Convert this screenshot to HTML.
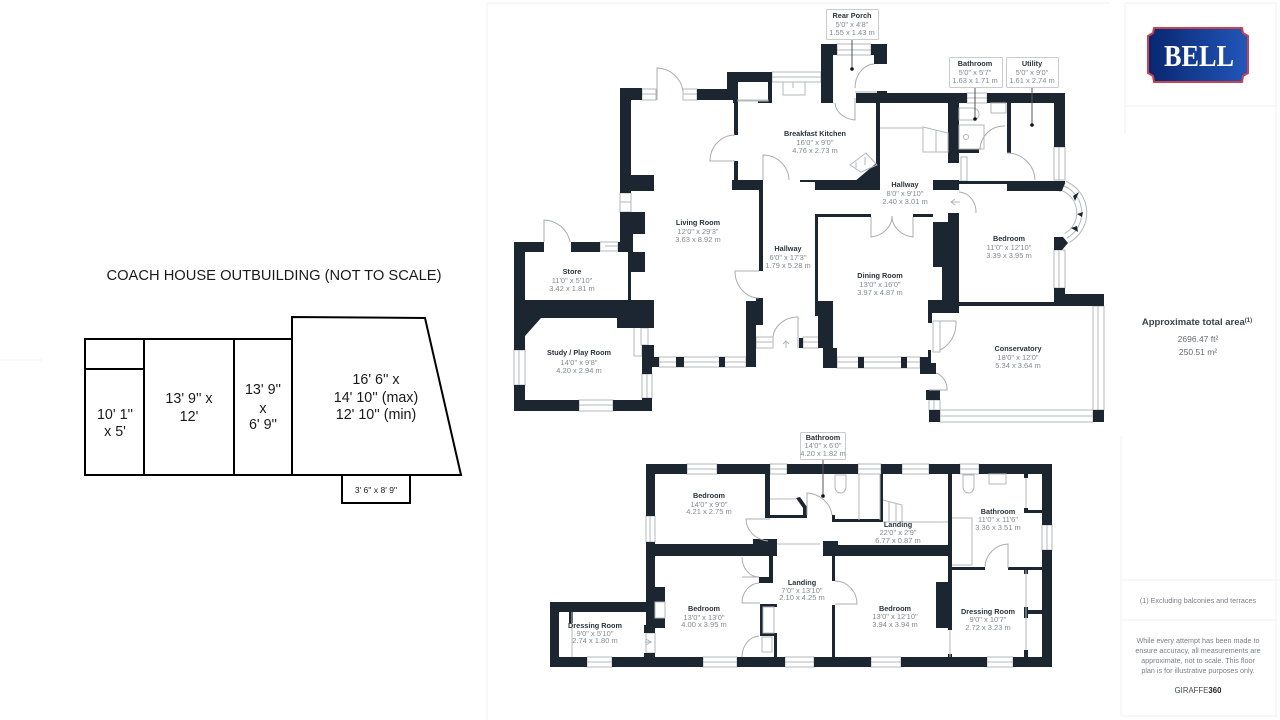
<!DOCTYPE html>
<html><head><meta charset="utf-8"><title>Floor plan</title>
<style>
html,body{margin:0;padding:0;background:#fff;width:1280px;height:720px;overflow:hidden}
svg{display:block}
text{font-family:"Liberation Sans",sans-serif;text-anchor:middle}
.n{font-size:7.300px;font-weight:bold;fill:#2a333d}
.d{font-size:7.500px;fill:#85898e}
.c{font-size:14.300px;fill:#1a1a1a}
.w{fill:#1b2631;stroke:none}
.g{fill:#fff;stroke:#b4b7ba;stroke-width:1}
.l{fill:none;stroke:#b4b7ba;stroke-width:1}
.a{fill:none;stroke:#a9acb0;stroke-width:1}
.t{fill:#fff;stroke:#c9cbcd;stroke-width:1}
.p{fill:none;stroke:#f0f0f0;stroke-width:1}
.f{font-size:7.200px;fill:#7a7f85}
</style></head><body>
<svg width="1280" height="720" viewBox="0 0 1280 720" xmlns="http://www.w3.org/2000/svg">
<!-- page lines -->
<path class="p" d="M487 3H1110M487 3V720M0 360H42M1125 3H1276V718M1125 3V134M1125 106H1276M1121 436V716M1121 580H1276M1121 620H1276M1121 716H1276M1240 580H1280"/>

<!-- Coach house -->
<g fill="none" stroke="#000" stroke-width="2">
<path d="M85 339H292V475H85ZM85 369H144M144 339V475M234 339V475"/>
<path d="M292 339V317L425 318L461 475H292"/>
<path d="M342 475V503H410V475"/>
</g>
<text x="274" y="280" font-size="15" fill="#1a1a1a" textLength="335" lengthAdjust="spacingAndGlyphs">COACH HOUSE OUTBUILDING (NOT TO SCALE)</text>
<text class="c" x="115" y="419">10' 1''</text><text class="c" x="115" y="436">x 5'</text>
<text class="c" x="189" y="403">13' 9'' x</text><text class="c" x="189" y="421">12'</text>
<text class="c" x="263" y="394">13' 9''</text><text class="c" x="263" y="413">x</text><text class="c" x="263" y="429">6' 9''</text>
<text class="c" x="376" y="384">16' 6'' x</text><text class="c" x="376" y="402">14' 10'' (max)</text><text class="c" x="376" y="419">12' 10'' (min)</text>
<text x="376" y="493" font-size="8.500" fill="#1a1a1a">3' 6'' x 8' 9''</text>

<!-- GROUND FLOOR windows -->
<g class="g">
<rect x="642" y="89" width="14" height="11"/><rect x="683" y="89" width="14" height="11"/>
<rect x="772" y="72" width="49" height="10"/>
<rect x="620" y="193" width="11" height="19"/>
<rect x="600" y="242" width="18" height="9"/>
<rect x="514" y="350" width="11" height="35"/>
<rect x="579" y="400" width="34" height="11"/>
<rect x="642" y="374" width="10" height="24"/>
<rect x="659" y="357" width="87" height="10"/>
<rect x="756" y="337" width="17" height="11"/><rect x="803" y="337" width="16" height="11"/>
<rect x="837" y="357" width="83" height="11"/>
<rect x="1054" y="250" width="11" height="38"/>
<rect x="1093" y="306" width="11" height="104"/>
<rect x="940" y="410" width="153" height="12"/>
<rect x="929" y="400" width="11" height="10"/>
<rect x="837" y="44" width="34" height="11"/>
<rect x="967" y="93" width="20" height="10"/>
<rect x="1054" y="147" width="11" height="33"/>
<rect x="933" y="321" width="7" height="31"/>
<rect x="634" y="325" width="8" height="31"/>
<rect x="641" y="328" width="7" height="17"/>
<rect x="961" y="157" width="6" height="24"/>
</g>
<path class="l" d="M642 94H656M683 94H697M772 77H821M620 202H631M605 246H618M519 350V385M579 405H613M647 374V398M659 362H746M756 342H773M803 342H819M837 362H920M1059 250V288M1098 306V410M940 416H1093M934 400V410M837 50H871M967 98H987M1059 147V180"/>

<!-- GROUND FLOOR walls -->
<g class="w">
<rect x="620" y="88" width="11" height="105"/><rect x="620" y="88" width="22" height="12"/>
<rect x="697" y="89" width="36" height="11"/>
<path d="M727 72H772V103H758V100H768V82H738V103H733V100H727Z"/>
<rect x="734" y="100" width="4" height="35"/><rect x="734" y="161" width="4" height="19"/>
<rect x="732" y="180" width="30" height="10"/>
<rect x="759" y="180" width="4" height="91"/>
<rect x="631" y="175" width="23" height="16"/>
<path d="M620 212H645V234H633V252H645V272H631V300H628V252H620Z"/>
<path d="M514 242H544V252H525V300H654V328H617V318H541L525 336V350H514Z"/>
<rect x="571" y="242" width="29" height="10"/><rect x="618" y="242" width="10" height="10"/>
<rect x="514" y="385" width="11" height="26"/><rect x="514" y="400" width="65" height="11"/>
<rect x="613" y="400" width="39" height="11"/><rect x="642" y="398" width="10" height="13"/>
<path d="M642 345H654V357H659V367H652V374H642Z"/>
<rect x="676" y="357" width="8" height="10"/><rect x="719" y="357" width="6" height="10"/>
<path d="M746 301H756V298H763V325H756V367H746Z"/>
<rect x="799" y="338" width="4" height="10"/>
<!-- Dining -->
<rect x="815" y="214" width="56" height="3"/><rect x="815" y="214" width="3" height="87"/>
<path d="M815 301H833V348H837V368H823V348H818V316H815Z"/>
<rect x="858" y="357" width="6" height="11"/><rect x="901" y="357" width="6" height="11"/>
<path d="M920 357H928V350H931V363H936V374H920Z"/>
<rect x="913" y="214" width="20" height="3"/>
<path d="M948 213H959V313H932V323H928V300H942V267H933V222H948Z"/>
<rect x="959" y="302" width="96" height="4"/>
<path d="M1054 288H1065V294H1104V306H1054Z"/>
<rect x="1093" y="410" width="11" height="12"/><rect x="929" y="410" width="11" height="12"/><rect x="926" y="390" width="14" height="10"/>
<!-- Kitchen area -->
<rect x="800" y="180" width="80" height="2"/><rect x="815" y="182" width="65" height="8"/>
<path d="M854 182L880 160V190H854Z"/>
<rect x="876" y="93" width="4" height="97"/>
<path d="M821 44H837V55H833V103H821Z"/>
<path d="M871 44H887V64H874V55H871Z"/>
<rect x="856" y="93" width="111" height="10"/><rect x="877" y="91" width="10" height="3"/>
<rect x="987" y="93" width="78" height="10"/><rect x="1054" y="93" width="11" height="54"/>
<rect x="948" y="93" width="11" height="70"/>
<rect x="1007" y="93" width="4" height="60"/>
<rect x="959" y="149" width="20" height="4"/>
<rect x="933" y="180" width="26" height="10"/>
<rect x="959" y="181" width="48" height="3"/>
<rect x="1007" y="181" width="58" height="10"/>
<path d="M1055 181H1065L1060 192Z"/>
<!-- Bay -->
<path d="M1054 237H1063L1068 243L1062 250H1054Z"/>
</g>
<!-- Bay window -->
<path d="M1064 186A29 29 0 0 1 1067 238" fill="none" stroke="#b4b7ba" stroke-width="11"/>
<path d="M1064 186A29 29 0 0 1 1067 238" fill="none" stroke="#fff" stroke-width="9"/>
<path d="M1064 186A29 29 0 0 1 1067 238" fill="none" stroke="#b4b7ba" stroke-width="1"/>
<path class="w" d="M1073 196L1079 192L1075 201ZM1077 214L1083 212L1082 217ZM1071 228L1078 232L1077 226Z"/>

<!-- Doors -->
<g class="a">
<path d="M657 100V68A27 27 0 0 1 683 91"/>
<path d="M544 242V220A27 27 0 0 1 570 242"/>
<path d="M735 135A25 26 0 0 0 710 161H735"/>
<path d="M763 180V155A26 26 0 0 1 789 180"/>
<path d="M759 271H735A24 27 0 0 0 759 298"/>
<path d="M798 348V317A25 22 0 0 0 773 337"/>
<path d="M871 217V237A24 21 0 0 0 892 216A24 21 0 0 0 913 237V217"/>
<path d="M855 92H877M874 64A20 24 0 0 0 855 88"/>
<path d="M855 98V120A22 18 0 0 1 835 103"/>
<path d="M1007 153A28 28 0 0 1 1035 180"/>
<path d="M1005 126H1003A24 24 0 0 0 980 150"/>
<path d="M959 192A18 20 0 0 1 976 213"/>
<path d="M940 321H956A26 29 0 0 1 940 350"/>
<path d="M936 373A16 17 0 0 1 947 390H929"/>
</g>
<!-- Fixtures -->
<g class="l">
<rect x="783" y="82" width="22" height="13"/>
<path d="M793 82V88"/>
<rect x="738" y="100" width="30" height="1"/>
<path d="M880 128H923M923 127L948 133V152H923ZM936 130V152"/>
<rect x="959" y="125" width="25" height="24"/>
<circle cx="966" cy="137" r="2.500"/>
<path d="M959 108H973A5.500 5.500 0 0 1 973 120H959Z"/>
<rect x="991" y="103" width="15" height="10"/>
<path d="M850 165L866 153L877 165L861 172Z"/>
<path d="M856 162V168M865 157V165"/>
<path d="M955 199L951 202L955 205M951 202H960M786 341V348M783 344L786 341L789 344"/>
</g>

<!-- FIRST FLOOR windows -->
<g class="g">
<rect x="687" y="464" width="30" height="10"/><rect x="770" y="464" width="17" height="10"/>
<rect x="858" y="464" width="23" height="10"/><rect x="902" y="464" width="27" height="10"/>
<rect x="960" y="464" width="19" height="10"/>
<rect x="1042" y="525" width="10" height="25"/>
<rect x="871" y="657" width="30" height="10"/><rect x="987" y="657" width="26" height="10"/>
<rect x="587" y="657" width="25" height="10"/><rect x="703" y="657" width="34" height="10"/><rect x="785" y="657" width="29" height="10"/>
<rect x="646" y="516" width="9" height="26"/>
<rect x="646" y="633" width="9" height="20"/>
</g>
<path class="l" d="M687 469H717M770 469H787M858 469H881M902 469H929M960 469H979M1047 525V550M871 662H901M987 662H1013M587 662H612M703 662H737M785 662H814M650 516V542"/>
<!-- FIRST FLOOR walls -->
<g class="w">
<rect x="646" y="464" width="41" height="10"/><rect x="717" y="464" width="53" height="10"/>
<rect x="787" y="464" width="71" height="10"/><rect x="881" y="464" width="21" height="10"/>
<rect x="929" y="464" width="31" height="10"/><rect x="979" y="464" width="73" height="10"/>
<rect x="646" y="464" width="9" height="52"/>
<rect x="1042" y="464" width="10" height="61"/><rect x="1042" y="550" width="10" height="117"/>
<rect x="815" y="657" width="56" height="10"/><rect x="901" y="657" width="86" height="10"/>
<rect x="1013" y="657" width="39" height="10"/>
<rect x="550" y="657" width="37" height="10"/><rect x="612" y="657" width="91" height="10"/>
<rect x="737" y="657" width="48" height="10"/><rect x="814" y="657" width="5" height="10"/>
<rect x="550" y="602" width="9" height="65"/><rect x="550" y="602" width="105" height="10"/>
<path d="M646 542H655V587H665V602H655V618H665V628H655V633H644V625H646Z"/>
<rect x="644" y="653" width="11" height="4"/>
<rect x="646" y="544" width="131" height="12"/><rect x="753" y="539" width="24" height="17"/>
<rect x="823" y="545" width="125" height="11"/><rect x="823" y="541" width="15" height="15"/>
<rect x="765" y="474" width="5" height="44"/><rect x="766" y="515" width="41" height="3"/>
<path d="M796 498L800 497L807 507V518H803V508Z"/>
<rect x="769" y="556" width="4" height="27"/><rect x="759" y="577" width="14" height="6"/>
<path d="M760 604H777V607H763V633H777V636H760Z"/><rect x="774" y="633" width="3" height="24"/>
<rect x="832" y="556" width="3" height="25"/><rect x="832" y="605" width="3" height="52"/>
<rect x="832" y="519" width="51" height="3"/><rect x="832" y="515" width="3" height="7"/>
<rect x="880" y="474" width="3" height="48"/>
<rect x="948" y="474" width="4" height="156"/>
<rect x="936" y="582" width="12" height="46"/>
<rect x="952" y="567" width="33" height="3"/><rect x="1008" y="567" width="34" height="3"/>
<rect x="1024" y="474" width="4" height="4"/><rect x="1024" y="508" width="4" height="5"/><rect x="1024" y="510" width="18" height="3"/>
<rect x="1024" y="570" width="4" height="4"/><rect x="1024" y="607" width="4" height="11"/><rect x="1028" y="610" width="14" height="4"/><rect x="1024" y="650" width="4" height="7"/>
<rect x="569" y="612" width="4" height="11"/>
<rect x="948" y="654" width="4" height="3"/>
</g>
<!-- First floor doors -->
<g class="a">
<path d="M807 515V493A27 25 0 0 1 832 515"/>
<path d="M770 519H746A25 22 0 0 0 768 541"/>
<path d="M742 557A17 20 0 0 0 759 577H742"/>
<path d="M759 583A18 20 0 0 0 742 603H760"/>
<path d="M759 636A18 21 0 0 0 742 657"/>
<path d="M835 581H836A22 23 0 0 1 857 604H835"/>
<path d="M1008 568V544A24 24 0 0 0 985 567"/>
</g>
<g class="l">
<path d="M777 544H820M883 522H948M859 474V520M880 474V520M883 500L902 505V522H883M889 501V522M896 503V522M572 612V657M1026 478V508M1026 570V650M952 518H972V565H952M950 630V657"/>
<path d="M835 475H846V487A5.500 6 0 0 1 835 487Z"/><path d="M963 475H974V487A5.500 6 0 0 1 963 487Z"/>
<rect x="989" y="474" width="17" height="10"/>
<rect x="763" y="607" width="11" height="26"/><rect x="762" y="637" width="10" height="15"/>
<rect x="655" y="602" width="10" height="16"/>
<path d="M770 499H796M651 642L646 639M651 642L646 645M645 642H652"/>
</g>

<!-- Tag boxes and leader lines -->
<g>
<path stroke="#555" stroke-width="1" fill="none" d="M852 39V69M975 87V119M1032 87V125M823 459V496"/>
<circle cx="852" cy="69" r="1.800" fill="#111"/><circle cx="975" cy="119" r="1.800" fill="#111"/><circle cx="1032" cy="125" r="1.800" fill="#111"/><circle cx="823" cy="496" r="1.800" fill="#111"/>
<rect class="t" x="826.500" y="9.500" width="52" height="30" rx="1"/>
<rect class="t" x="949.500" y="57.500" width="53" height="30" rx="1"/>
<rect class="t" x="1006.500" y="57.500" width="52" height="30" rx="1"/>
<rect class="t" x="800.500" y="432.500" width="45" height="27" rx="1"/>
</g>

<!-- Labels -->
<text class="n" x="852" y="18">Rear Porch</text><text class="d" x="852" y="27">5'0" x 4'8"</text><text class="d" x="852" y="35">1.55 x 1.43 m</text>
<text class="n" x="975" y="66">Bathroom</text><text class="d" x="975" y="75">5'0" x 5'7"</text><text class="d" x="975" y="83">1.63 x 1.71 m</text>
<text class="n" x="1032" y="66">Utility</text><text class="d" x="1032" y="75">5'0" x 9'0"</text><text class="d" x="1032" y="83">1.61 x 2.74 m</text>
<text class="n" x="815" y="136">Breakfast Kitchen</text><text class="d" x="815" y="145">16'0" x 9'0"</text><text class="d" x="815" y="153">4.76 x 2.73 m</text>
<text class="n" x="905" y="187">Hallway</text><text class="d" x="905" y="196">8'0" x 9'10"</text><text class="d" x="905" y="204">2.40 x 3.01 m</text>
<text class="n" x="698" y="225">Living Room</text><text class="d" x="698" y="234">12'0" x 29'3"</text><text class="d" x="698" y="242">3.63 x 8.92 m</text>
<text class="n" x="788" y="251">Hallway</text><text class="d" x="788" y="260">6'0" x 17'3"</text><text class="d" x="788" y="268">1.79 x 5.28 m</text>
<text class="n" x="572" y="274">Store</text><text class="d" x="572" y="283">11'0" x 5'10"</text><text class="d" x="572" y="291">3.42 x 1.81 m</text>
<text class="n" x="579" y="355">Study / Play Room</text><text class="d" x="579" y="365">14'0" x 9'8"</text><text class="d" x="579" y="373">4.20 x 2.94 m</text>
<text class="n" x="880" y="278">Dining Room</text><text class="d" x="880" y="287">13'0" x 16'0"</text><text class="d" x="880" y="295">3.97 x 4.87 m</text>
<text class="n" x="1009" y="241">Bedroom</text><text class="d" x="1009" y="250">11'0" x 12'10"</text><text class="d" x="1009" y="258">3.39 x 3.95 m</text>
<text class="n" x="1018" y="351">Conservatory</text><text class="d" x="1018" y="360">18'0" x 12'0"</text><text class="d" x="1018" y="368">5.34 x 3.64 m</text>
<text class="n" x="823" y="440">Bathroom</text><text class="d" x="823" y="448">14'0" x 6'0"</text><text class="d" x="823" y="456">4.20 x 1.82 m</text>
<text class="n" x="709" y="498">Bedroom</text><text class="d" x="709" y="507">14'0" x 9'0"</text><text class="d" x="709" y="514">4.21 x 2.75 m</text>
<text class="n" x="898" y="527">Landing</text><text class="d" x="898" y="535">22'0" x 2'9"</text><text class="d" x="898" y="543">6.77 x 0.87 m</text>
<text class="n" x="998" y="514">Bathroom</text><text class="d" x="998" y="522">11'0" x 11'6"</text><text class="d" x="998" y="530">3.36 x 3.51 m</text>
<text class="n" x="802" y="585">Landing</text><text class="d" x="802" y="593">7'0" x 13'10"</text><text class="d" x="802" y="600">2.10 x 4.25 m</text>
<text class="n" x="704" y="611">Bedroom</text><text class="d" x="704" y="620">13'0" x 13'0"</text><text class="d" x="704" y="627">4.00 x 3.95 m</text>
<text class="n" x="895" y="611">Bedroom</text><text class="d" x="895" y="619">13'0" x 12'10"</text><text class="d" x="895" y="627">3.94 x 3.94 m</text>
<text class="n" x="595" y="628">Dressing Room</text><text class="d" x="595" y="636">9'0" x 5'10"</text><text class="d" x="595" y="643">2.74 x 1.80 m</text>
<text class="n" x="988" y="614">Dressing Room</text><text class="d" x="988" y="622">9'0" x 10'7"</text><text class="d" x="988" y="630">2.72 x 3.23 m</text>

<!-- Logo -->
<defs><linearGradient id="b" x1="0" x2="1" y1="0" y2="0"><stop offset="0" stop-color="#08266e"/><stop offset="1" stop-color="#2257ba"/></linearGradient></defs>
<path d="M1154 28H1242L1243 33L1248 36V73L1243 76L1242 82H1154L1153 76L1148 73V36L1153 33Z" fill="url(#b)" stroke="#c8424f" stroke-width="2"/>
<text x="1199" y="66" font-size="31" font-weight="bold" fill="#fff" style="font-family:'Liberation Serif',serif" textLength="70" lengthAdjust="spacingAndGlyphs">BELL</text>

<!-- Right panel -->
<text x="1197" y="325" font-size="9.500" font-weight="bold" fill="#3a424a">Approximate total area<tspan font-size="6" dy="-3">(1)</tspan></text>
<text x="1198" y="342" font-size="8.500" fill="#666c72">2696.47 ft²</text>
<text x="1198" y="355" font-size="8.500" fill="#666c72">250.51 m²</text>
<text class="f" x="1198" y="603">(1) Excluding balconies and terraces</text>
<text class="f" x="1198" y="643">While every attempt has been made to</text>
<text class="f" x="1198" y="653">ensure accuracy, all measurements are</text>
<text class="f" x="1198" y="663">approximate, not to scale. This floor</text>
<text class="f" x="1198" y="673">plan is for illustrative purposes only.</text>
<text x="1198" y="693" font-size="7.800" fill="#444b52">GIRAFFE<tspan font-weight="bold" fill="#222">360</tspan></text>
</svg>
</body></html>
